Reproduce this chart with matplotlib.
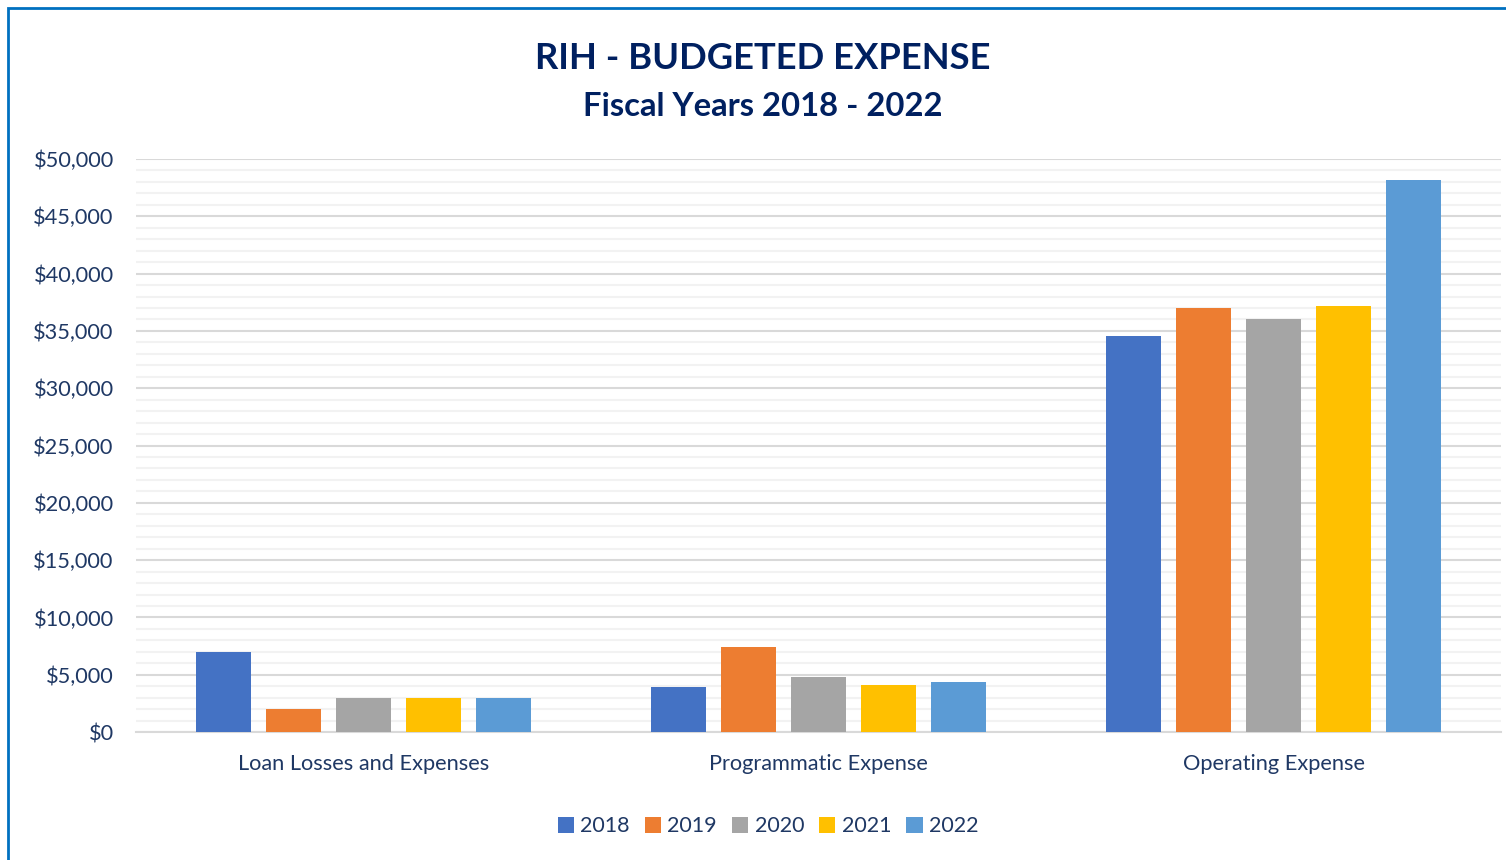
import numpy as np
import matplotlib.pyplot as plt
from matplotlib.patches import Rectangle
from matplotlib.ticker import MultipleLocator, FuncFormatter

# Daten
#======
categories = ["Loan Losses and Expenses", "Programmatic Expense", "Operating Expense"]
years = ["2018", "2019", "2020", "2021", "2022"]
values = {
    "2018": [7000, 3900, 34550],
    "2019": [2000, 7400, 37000],
    "2020": [3000, 4800, 36050],
    "2021": [3000, 4100, 37170],
    "2022": [3000, 4350, 48170],
}
colors = ["#4472C4", "#ED7D31", "#A5A5A5", "#FFC000", "#5B9BD5"]

txt = "#1F3864"
plt.rcParams["font.family"] = ["Lato", "DejaVu Sans"]

fig = plt.figure(figsize=(15.06, 8.6), dpi=100)
ax = fig.add_axes([0.0903, 0.1488, 0.9064, 0.6663])

# Balken
#-------
x = np.arange(len(categories))
width = 0.121
step = 0.154
for i, yr in enumerate(years):
    ax.bar(x + (i - 2) * step, values[yr], width, color=colors[i], label=yr, zorder=3)

# Achsen
#-------
ax.set_xlim(-0.5, 2.5)
ax.set_ylim(0, 50000)
ax.yaxis.set_major_locator(MultipleLocator(5000))
ax.yaxis.set_minor_locator(MultipleLocator(1000))
ax.yaxis.set_major_formatter(FuncFormatter(lambda v, p: f"${v:,.0f}"))
ax.grid(axis="y", which="major", color="#D9D9D9", linewidth=1.5, zorder=1)
ax.grid(axis="y", which="minor", color="#F2F2F2", linewidth=1.5, zorder=0)
for s in ["top", "right", "left"]:
    ax.spines[s].set_visible(False)
ax.spines["bottom"].set_color("#D9D9D9")
ax.spines["bottom"].set_linewidth(1.5)
ax.tick_params(axis="both", which="both", length=0, colors=txt, labelsize=15.7)
ax.tick_params(axis="y", pad=16)
ax.tick_params(axis="x", pad=16)
ax.set_xticks(x)
ax.set_xticklabels(categories)

# Titel
#------
fig.text(0.5065, 0.932, "RIH - BUDGETED EXPENSE", ha="center", va="center",
         fontsize=26.2, fontweight="bold", color="#002060")
fig.text(0.5065, 0.876, "Fiscal Years 2018 - 2022", ha="center", va="center",
         fontsize=23.6, fontweight="bold", color="#002060")

# Legende
#--------
leg = fig.legend(loc="center", bbox_to_anchor=(0.51, 0.039), ncol=5, frameon=False,
                 fontsize=15.5, handlelength=0.75, handleheight=0.75, handletextpad=0.3,
                 columnspacing=0.7)
for t in leg.get_texts():
    t.set_color(txt)

# Rahmen
#-------
fig.patches.append(Rectangle((8 / 1506, -0.1), 1.2, 1.1 - 8 / 860, transform=fig.transFigure,
                             fill=False, edgecolor="#0070C0", linewidth=2))

fig.savefig("out.png", dpi=100)
